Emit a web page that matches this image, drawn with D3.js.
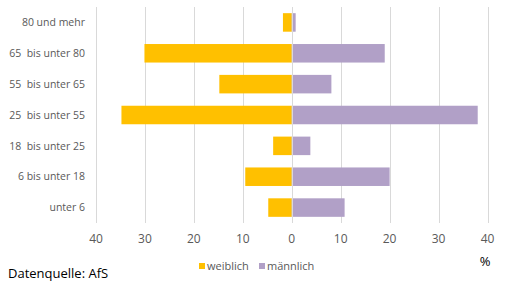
<!DOCTYPE html>
<html>
<head>
<meta charset="utf-8">
<script src="https://cdn.jsdelivr.net/npm/d3@7"></script>
<style>
  body { margin: 0; background: #fff; }
  text { font-family: "Open Sans", sans-serif; fill: #595959; }
</style>
</head>
<body>
<script>
var width = 506,
  height = 286;

// Data
var categories = ["80 und mehr", "65  bis unter 80", "55  bis unter 65", "25  bis unter 55", "18  bis unter 25", "6 bis unter 18", "unter 6"];
var weiblich = [1.8, 30.1, 14.8, 34.8, 3.8, 9.5, 4.8];
var maennlich = [0.8, 19.0, 8.1, 38.0, 3.8, 20.0, 10.8];
var ticks = [-40, -30, -20, -10, 0, 10, 20, 30, 40];
var seriesNames = ["weiblich", "männlich"];
var colors = ["#ffc000", "#b1a0c7"];

var svg = d3.select("body").append("svg")
  .attr("width", width)
  .attr("height", height);

var x = d3.scaleLinear()
  .domain([-40, 40])
  .range([96, 487.5]);

var y = d3.scaleBand()
  .domain(categories)
  .range([7, 223])
  .paddingInner(0.4)
  .paddingOuter(0.2);

// gridlines
svg.append("g")
  .selectAll("line")
  .data(ticks)
  .enter()
  .append("line")
  .attr("x1", function (d) { return Math.round(x(d)) + 0.5; })
  .attr("x2", function (d) { return Math.round(x(d)) + 0.5; })
  .attr("y1", 7)
  .attr("y2", 223)
  .style("stroke", "#d9d9d9")
  .style("stroke-width", 1);

// bars
svg.append("g")
  .selectAll("rect")
  .data(weiblich)
  .enter()
  .append("rect")
  .attr("x", function (d) { return x(-d); })
  .attr("y", function (d, i) { return y(categories[i]); })
  .attr("width", function (d) { return x(0) - x(-d); })
  .attr("height", y.bandwidth())
  .attr("fill", colors[0]);

svg.append("g")
  .selectAll("rect")
  .data(maennlich)
  .enter()
  .append("rect")
  .attr("x", x(0))
  .attr("y", function (d, i) { return y(categories[i]); })
  .attr("width", function (d) { return x(d) - x(0); })
  .attr("height", y.bandwidth())
  .attr("fill", colors[1]);

// zero line over bars
svg.append("line")
  .attr("x1", Math.round(x(0)) + 0.5)
  .attr("x2", Math.round(x(0)) + 0.5)
  .attr("y1", 7)
  .attr("y2", 223)
  .style("stroke", "#d9d9d9");

// category labels
svg.append("g")
  .selectAll("text")
  .data(categories)
  .enter()
  .append("text")
  .attr("x", 85)
  .attr("y", function (d) { return y(d) + y.bandwidth() / 2; })
  .attr("dy", "0.35em")
  .attr("text-anchor", "end")
  .style("font-size", "10.5px")
  .style("white-space", "pre")
  .text(function (d) { return d; });

// x tick labels
svg.append("g")
  .selectAll("text")
  .data(ticks)
  .enter()
  .append("text")
  .attr("x", function (d) { return x(d); })
  .attr("y", 239)
  .attr("dy", "0.35em")
  .attr("text-anchor", "middle")
  .style("font-size", "12px")
  .text(function (d) { return Math.abs(d); });

// legend
var legendX = [199, 259];
var lg = svg.append("g")
  .selectAll("g")
  .data(seriesNames)
  .enter()
  .append("g")
  .attr("transform", function (d, i) { return "translate(" + legendX[i] + ",266)"; });

lg.append("rect")
  .attr("x", 0)
  .attr("y", -3)
  .attr("width", 6)
  .attr("height", 6)
  .attr("fill", function (d, i) { return colors[i]; });

lg.append("text")
  .attr("x", 8)
  .attr("dy", "0.35em")
  .style("font-size", "11px")
  .text(function (d) { return d; });

svg.append("text")
  .attr("x", 485)
  .attr("y", 261)
  .attr("dy", "0.35em")
  .attr("text-anchor", "middle")
  .style("font-size", "13px")
  .style("fill", "#000")
  .text("%");

svg.append("text")
  .attr("x", 8)
  .attr("y", 278)
  .style("font-size", "13px")
  .style("fill", "#000")
  .text("Datenquelle: AfS");
</script>
</body>
</html>
